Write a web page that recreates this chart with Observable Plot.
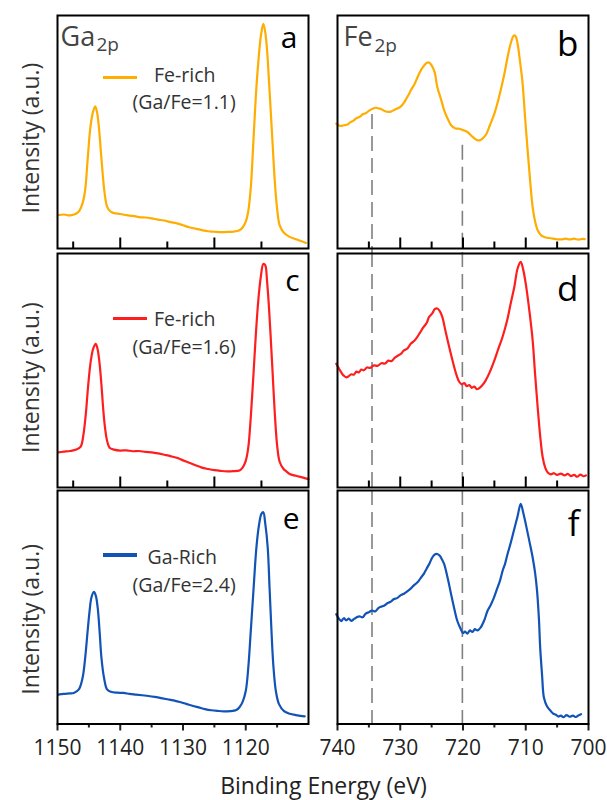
<!DOCTYPE html>
<html><head><meta charset="utf-8">
<script src="https://cdn.jsdelivr.net/npm/d3@7"></script>
<script src="https://cdn.jsdelivr.net/npm/@observablehq/plot@0.6"></script>
<style>
body{margin:0;background:#fff;}
#fig{position:relative;width:607px;height:800px;font-family:'Open Sans',sans-serif;overflow:hidden;background:#fff}
#fig svg{position:absolute}
.sw{position:absolute;height:3.5px}
.xt{position:absolute;left:40px;width:567px;text-align:center;font-size:23px;line-height:23px;color:#222}
</style></head><body><div id="fig"></div>
<script>
// ---------- data: [binding energy (eV), intensity (a.u., 0..100 of panel)] ----------
const gaFeRich11 = [[1149.9,14.3],[1149,14.6],[1148,14.2],[1147,15.0],[1146.5,16.3],[1146,19.5],[1145.6,25],[1145.2,38],[1144.8,51],[1144.4,58],[1144,61],[1143.7,58.5],[1143.4,52],[1143.1,42],[1142.8,32],[1142.5,24],[1142.1,18],[1141.6,16],[1141,15.2],[1140,14.8],[1139,14.3],[1138,14.0],[1137,13.5],[1136,13.3],[1135,12.9],[1134,12.4],[1133,12.0],[1132,11.3],[1131,10.8],[1130,10.0],[1129,9.1],[1128,8.5],[1127,7.9],[1126,7.4],[1125,7.2],[1124,7.0],[1123,7.1],[1122,7.2],[1121,7.8],[1120.5,9],[1120,11.5],[1119.6,16],[1119.2,26],[1118.8,45],[1118.4,65],[1118,80],[1117.6,91],[1117.2,96.4],[1116.9,93],[1116.6,85],[1116.3,72],[1116,58],[1115.7,44],[1115.4,30],[1115,17],[1114.6,10],[1114,7],[1113,5],[1112,4],[1111,3],[1110.4,2.4]];
const gaFeRich16 = [[1149.9,15.0],[1149,15.3],[1148,15.6],[1147,16.2],[1146.3,17.5],[1145.9,22],[1145.5,31],[1145.1,44],[1144.7,54],[1144.3,59.5],[1143.9,61.4],[1143.6,59],[1143.3,53],[1143,44],[1142.7,33],[1142.4,25],[1142.1,20],[1141.7,17],[1141,16.2],[1140,15.8],[1139,15.9],[1138,15.5],[1137,15.6],[1136,15.2],[1135,15.0],[1134,14.6],[1133,14.0],[1132,13.4],[1131,12.7],[1130,11.6],[1129,10.6],[1128,9.5],[1127,8.5],[1126,7.9],[1125,7.4],[1124,7.1],[1123,6.9],[1122,7.0],[1121,7.3],[1120.5,8.5],[1120,11.4],[1119.6,17],[1119.2,30],[1118.8,47],[1118.4,65],[1118,80],[1117.6,90],[1117.2,95.5],[1116.9,95],[1116.6,88],[1116.3,77],[1116,63],[1115.7,48],[1115.4,33],[1115,18],[1114.6,11],[1114,8],[1113.5,6.8],[1113,5.8],[1112,5],[1111,4.3],[1110,3.6]];
const gaGaRich24 = [[1149.9,12.6],[1149,12.9],[1148,13.1],[1147.4,13.3],[1146.6,14.8],[1146,19.8],[1145.6,28],[1145.2,39.8],[1144.9,48],[1144.6,54.1],[1144.2,56.6],[1143.9,55],[1143.6,49.9],[1143.3,40],[1143,28.4],[1142.6,20],[1142.1,14.8],[1141.5,13.8],[1140.5,13.4],[1139.5,13.3],[1138.5,12.9],[1137.5,12.6],[1136.5,12.3],[1135.5,12.0],[1134.5,11.6],[1133.5,11.1],[1132.5,10.6],[1131.5,10.1],[1130.5,9.4],[1129.5,8.6],[1128.5,7.8],[1127.5,7.1],[1126.5,6.4],[1125.5,5.9],[1124.5,5.6],[1123.5,5.4],[1122.5,5.5],[1121.5,6.0],[1121,7.2],[1120.5,9.5],[1120,14.1],[1119.6,24],[1119.2,39.8],[1118.8,56],[1118.3,75.6],[1117.9,85],[1117.5,90],[1117.2,90.7],[1116.9,86],[1116.5,75.6],[1116.2,58],[1115.9,39.8],[1115.6,25],[1115.2,14.1],[1114.7,8.5],[1113.9,5.5],[1113,4.4],[1112,3.8],[1111,3.4],[1110.6,3.3]];

const feFeRich11 = [[740.2,53.6],[739.6,52.6],[739,52.9],[738.4,53.2],[738,54.1],[737.4,55],[737,55.9],[736.4,56.6],[736,57.6],[735.4,58.2],[735,59.1],[734.4,60],[733.9,60.4],[733.4,60.1],[733,59.8],[732.4,58.9],[731.8,58.6],[731.3,59],[730.8,59.7],[730.3,60.3],[729.9,61],[729.4,62.6],[729,64.5],[728.6,66.3],[728.3,68],[727.8,70.2],[727.4,72.5],[727,75],[726.4,77.8],[725.8,79.6],[725.4,79.8],[725,78.6],[724.5,75.5],[724.1,69.3],[723.5,64],[723,59.3],[722.4,55.5],[721.9,52.9],[721.2,51.5],[720.6,51.4],[720,50.8],[719.3,50],[718.5,48],[717.8,46.6],[717.4,46.4],[716.9,47.2],[716.4,48.6],[715.7,53],[715,57.9],[714.5,62.5],[714,67.9],[713.4,75],[712.9,82.1],[712.4,88],[711.9,91.4],[711.6,91],[711.3,87.9],[710.9,80],[710.5,70.7],[710.1,56],[709.7,42.1],[709.3,29],[708.9,17.8],[708.5,11.5],[708.1,7.8],[707.5,5.5],[706.8,4.7],[706,4.4],[705.2,4.0],[704.4,3.9],[703.6,4.2],[703,3.9],[702.3,4.2],[701.6,3.8],[701,4.1],[700.6,4.0]];
const feFeRich16 = [[740.2,52.9],[739.8,51],[739.4,49.2],[739,47.8],[738.6,47.1],[738.2,47.6],[737.8,48.4],[737.4,48.2],[737,49.5],[736.6,49.2],[736.2,50.4],[735.8,50.1],[735.3,51.3],[734.8,51.1],[734.2,52.2],[733.6,52.0],[733,53.1],[732.4,53.0],[731.9,54.2],[731.4,54.0],[730.9,55.4],[730.4,56.3],[729.9,57.1],[729.4,58.6],[728.9,59.3],[728.3,61.5],[727.8,62.6],[727.3,64.3],[726.8,66.4],[726.3,68.5],[725.8,70.3],[725.4,72.9],[724.9,74.4],[724.5,76.2],[724.1,76.5],[723.7,75.4],[723.3,72.9],[722.8,67],[722.2,60],[721.6,53.5],[721.1,48.6],[720.6,45.2],[720.2,44.1],[719.8,44.6],[719.4,43.3],[719,43.8],[718.6,42.6],[718.2,43.1],[717.8,42.0],[717.4,42.5],[717,43.5],[716.4,45.7],[715.7,49.5],[715,54.3],[714.4,59],[713.7,64.3],[713,71],[712.4,78.6],[711.8,86],[711.3,93.6],[710.8,96.4],[710.4,93],[710,87.1],[709.4,75],[708.9,62.9],[708.5,48],[708.1,34.3],[707.7,22],[707.3,12.9],[706.9,8.5],[706.5,6.4],[706,5.6],[705.5,6.1],[705,5.4],[704.4,5.9],[703.8,5.2],[703.3,5.8],[702.8,4.9],[702.3,5.4],[701.8,4.6],[701.3,5.5],[700.8,4.8],[700.4,5.2]];
const feGaRich24 = [[740.2,47],[739.8,45.2],[739.4,44.1],[739,45.3],[738.6,44.4],[738.2,45.1],[737.8,44.2],[737.4,44.9],[737,45.6],[736.5,46.1],[736,45.7],[735.5,47.3],[735,47.9],[734.5,48.6],[734,48.2],[733.5,49.6],[733.1,50.2],[732.6,50.6],[732,51.8],[731.5,52.4],[731,53.5],[730.5,53.9],[729.9,55.2],[729.4,55.8],[728.8,57],[728.3,58.1],[727.8,59.5],[727.2,60.8],[726.7,62.7],[726.2,64.5],[725.8,66.5],[725.3,69],[724.9,71.3],[724.5,72.6],[724.1,72.8],[723.7,72.1],[723.3,70.2],[723,68.5],[722.4,62],[721.9,55.6],[721.4,49.5],[720.9,44.1],[720.4,40.9],[720,38.9],[719.7,39.6],[719.3,38.7],[718.9,40.1],[718.5,39.4],[718.1,40.6],[717.7,40.1],[717.2,41.3],[716.6,44.5],[716.1,48.4],[715.6,50.9],[715.1,53.9],[714.5,58.4],[714.1,61.4],[713.7,65.5],[713.3,68.6],[712.9,72.8],[712.4,77.5],[711.9,82.8],[711.3,89],[710.8,94.3],[710.4,90.5],[710,85.7],[709.4,78],[708.9,71.3],[708.5,64.5],[708.2,57],[707.9,45],[707.7,32.7],[707.4,21],[707.1,11.2],[706.6,7.5],[706,5.5],[705.6,4.4],[705.2,4.0],[704.8,3.2],[704.4,3.6],[704,2.9],[703.5,3.8],[703,3.1],[702.5,3.6],[702,3.0],[701.6,3.7],[701.2,4.2]];

// dashed guide lines on the Fe 2p panels (eV) and their start level in panel b
const guideEnergies = [734.5, 720.1];
const guideStartB = [57.5, 44.3];

// tick values
const gaTopMajor = [1140, 1125];
const gaTopMinor = [1147.5, 1132.5, 1117.5];
const gaBottomMajor = [1150, 1140, 1130, 1120];
const gaBottomMinor = [1145, 1135, 1125, 1115];
const feTopMajor = [730, 720, 710];
const feTopMinor = [735, 725, 715, 705];
const feBottomMajor = [740, 730, 720, 710, 700];
const feBottomMinor = [735, 725, 715, 705];

// text
const legendLabels = [["Fe-rich", "(Ga/Fe=1.1)"], ["Fe-rich", "(Ga/Fe=1.6)"], ["Ga-Rich", "(Ga/Fe=2.4)"]];
const seriesColors = ["#ffad00", "#ff1e1e", "#1253b6"];
const panelLetters = ["a", "b", "c", "d", "e", "f"];

// ---------- layout ----------
const FONT = "'Open Sans', sans-serif";
const fig = document.getElementById("fig");
const cols = [
  {left: 0, width: 320, mL: 57, mR: 12, domain: [1150, 1110]},
  {left: 320, width: 287, mL: 17, mR: 19, domain: [740, 700]}
];
const rows = [
  {top: 0, height: 251, mT: 15, mB: 3},
  {top: 251, height: 238, mT: 2, mB: 2},
  {top: 489, height: 300, mT: 1, mB: 65.5}
];
const gaSeries = [gaFeRich11, gaFeRich16, gaGaRich24];
const feSeries = [feFeRich11, feFeRich16, feGaRich24];
const letterPos = [
  [[-11, 32, 30], [-10, 40, 35]],
  [[-9, 37, 30], [-10, 47, 35]],
  [[-9, 38, 30], [-9, 45, 35]]
];
const ylabelDy = [6, 7, 12];
const legendPos = [
  {sw: [103, 77.5], t1: [96.5, 66.7], t2: [75, 93.3]},
  {sw: [113, 318.3], t1: [96.5, 72], t2: [75, 100]},
  {sw: [103, 555], t1: [90, 73.3], t2: [75, 101.7]}
];

function toRows(arr) { return arr.map(([e, i]) => ({e, i})); }

for (let r = 0; r < 3; r++) {
  for (let c = 0; c < 2; c++) {
    const R = rows[r], C = cols[c];
    const frameH = R.height - R.mT - R.mB;
    const data = toRows(c === 0 ? gaSeries[r] : feSeries[r]);
    const marks = [];
    // guides
    if (c === 1) {
      const guideStyle = {stroke: "#808080", strokeWidth: 1.6, strokeDasharray: "15,7"};
      if (r === 0) {
        marks.push(Plot.ruleX(guideEnergies.map((e, k) => ({e, s: guideStartB[k]})), {x: "e", y1: "s", y2: 0, insetBottom: -5, ...guideStyle}));
      } else if (r === 1) {
        marks.push(Plot.ruleX(guideEnergies, {x: d => d, insetTop: -1, insetBottom: -4, ...guideStyle}));
      } else {
        marks.push(Plot.ruleX(guideEnergies, {x: d => d, ...guideStyle}));
      }
    }
    marks.push(Plot.line(data, {x: "e", y: "i", stroke: seriesColors[r], strokeWidth: 2.2, curve: "catmull-rom"}));
    // ticks
    if (r < 2) {
      const maj = c === 0 ? gaTopMajor : feTopMajor;
      const min = c === 0 ? gaTopMinor : feTopMinor;
      marks.push(Plot.tickX(maj, {x: d => d, insetTop: frameH - 10.5, stroke: "black", strokeWidth: 2}));
      marks.push(Plot.tickX(min, {x: d => d, insetTop: frameH - 6.5, stroke: "black", strokeWidth: 2}));
    } else {
      const maj = c === 0 ? gaBottomMajor : feBottomMajor;
      const min = c === 0 ? gaBottomMinor : feBottomMinor;
      marks.push(Plot.axisX({ticks: maj, tickSize: 7, tickPadding: 9, strokeWidth: 2, label: null, tickFormat: d => String(d), fontSize: 21, fill: "#222"}));
      marks.push(Plot.axisX({ticks: min, tickSize: 4, strokeWidth: 2, label: null, tickFormat: () => ""}));
    }
    marks.push(Plot.frame({stroke: "black", strokeWidth: 2}));
    // letter
    const [ldx, ldy, lfs] = letterPos[r][c];
    marks.push(Plot.text([panelLetters[r * 2 + c]], {text: d => d, frameAnchor: "top-right", textAnchor: "end", lineAnchor: "bottom", dx: ldx, dy: ldy, fontSize: lfs, fill: "#000"}));
    if (c === 0) {
      marks.push(Plot.text(["Intensity (a.u.)"], {text: d => d, frameAnchor: "left", textAnchor: "middle", lineAnchor: "middle", rotate: -90, dx: -26, dy: ylabelDy[r], fontSize: 23, fill: "#333"}));
      const L = legendPos[r];
      marks.push(Plot.text([legendLabels[r][0]], {text: d => d, frameAnchor: "top-left", textAnchor: "start", lineAnchor: "bottom", dx: L.t1[0], dy: L.t1[1], fontSize: 19.5, fill: "#333"}));
      marks.push(Plot.text([legendLabels[r][1]], {text: d => d, frameAnchor: "top-left", textAnchor: "start", lineAnchor: "bottom", dx: L.t2[0], dy: L.t2[1], fontSize: 19.5, fill: "#333"}));
    }
    if (r === 0) {
      const main = c === 0 ? "Ga" : "Fe";
      marks.push(Plot.text([main], {text: d => d, frameAnchor: "top-left", textAnchor: "start", lineAnchor: "bottom", dx: c === 0 ? 3 : 6, dy: 30, fontSize: 27, fill: "#444"}));
      marks.push(Plot.text(["2p"], {text: d => d, frameAnchor: "top-left", textAnchor: "start", lineAnchor: "bottom", dx: c === 0 ? 39 : 37, dy: c === 0 ? 35 : 36, fontSize: 19, fill: "#444"}));
    }
    const svg = Plot.plot({
      width: C.width, height: R.height,
      marginLeft: C.mL, marginRight: C.mR, marginTop: R.mT, marginBottom: R.mB,
      x: {domain: C.domain, axis: null},
      y: {domain: [0, 100], axis: null},
      style: {background: "transparent", overflow: "visible", fontFamily: FONT, color: "#222"},
      marks
    });
    svg.style.left = C.left + "px";
    svg.style.top = R.top + "px";
    fig.appendChild(svg);
    if (c === 0) {
      const sw = document.createElement("div");
      sw.className = "sw";
      sw.style.left = legendPos[r].sw[0] + "px";
      sw.style.top = (legendPos[r].sw[1] - 1.75) + "px";
      sw.style.width = "34px";
      sw.style.background = seriesColors[r];
      fig.appendChild(sw);
    }
  }
}
const xt = document.createElement("div");
xt.className = "xt";
xt.style.top = "774px";
xt.textContent = "Binding Energy (eV)";
fig.appendChild(xt);
</script></body></html>
